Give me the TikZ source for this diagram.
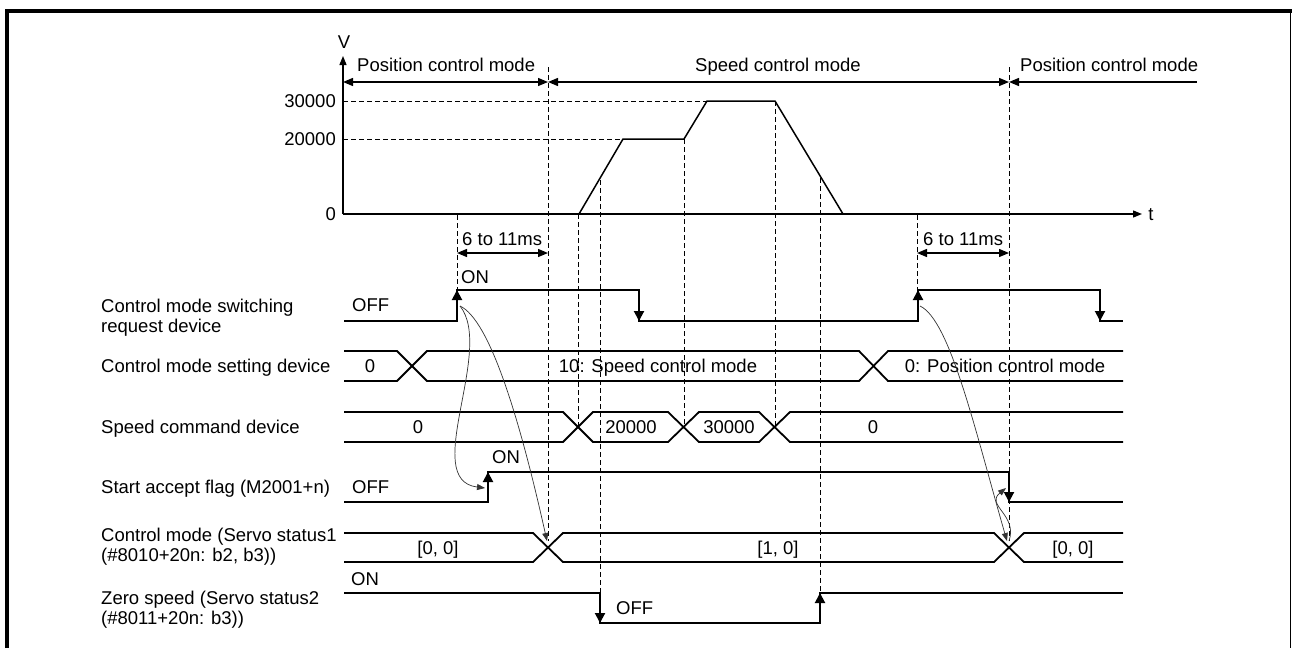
\documentclass[tikz,border=0pt]{standalone}
\usepackage{fontspec}
\setmainfont{Liberation Sans}
\usetikzlibrary{arrows.meta}
\newfontfamily\lbfont{Liberation Sans}
\begin{document}
\begin{tikzpicture}[x=1pt,y=-1pt,
  lbl/.style={font=\fontsize{18.5}{20}\selectfont, inner sep=0pt, anchor=base west},
  ctr/.style={font=\fontsize{18.5}{20}\selectfont, inner sep=0pt, anchor=base},
  rgt/.style={font=\fontsize{18.5}{20}\selectfont, inner sep=0pt, anchor=base east},
  sig/.style={line width=2pt, line join=miter},
  bus/.style={line width=1.8pt, line join=miter},
  dsh/.style={line width=1pt, dash pattern=on 5pt off 3pt},
  axisline/.style={line width=1.3pt},
  edgetip/.style={line width=2pt, -{Triangle[length=10pt,width=10pt]}},
  dimarrow/.style={line width=1.3pt, {Triangle[length=10pt,width=8pt]}-{Triangle[length=10pt,width=8pt]}},
  linkcurve/.style={line width=0.7pt, black!80, -{Triangle[length=8pt,width=6pt]}}
]
\useasboundingbox (0,0) rectangle (1292,648);
% frame
\draw[line width=4pt, line join=miter] (7,648) -- (7,11) -- (1292,11);
\draw[line width=1.5pt] (1290.5,11) -- (1290.5,648);

% axes
\coordinate (O) at (343,214);
\coordinate (Vtop) at (343,56);
\coordinate (Tend) at (1142,214);
\draw[axisline,-{Triangle[length=9pt,width=7pt]}] (O) -- (Vtop);
\draw[axisline,-{Triangle[length=9pt,width=7pt]}] (O) -- (Tend);
\node[ctr] (V) at (344,48.5) {V};
\node[ctr] (t) at (1151,220.5) {t};
\node[rgt] (y30) at (336,107.5) {30000};
\node[rgt] (y20) at (336,145.5) {20000};
\node[rgt] (y0) at (336,220.5) {0};
\draw[dsh] (343,101) -- (707,101);
\draw[dsh] (343,139) -- (623,139);

% speed profile
\draw[line width=1.5pt, line join=miter] (579,214) -- (623,139) -- (684,139) -- (707,101) -- (775,101) -- (843,214);

% mode arrows
\coordinate (m0) at (343,82);
\coordinate (m1) at (548,82);
\coordinate (m2) at (1009,82);
\coordinate (m3) at (1197,82);
\draw[dimarrow] (m0) -- (m1);
\draw[dimarrow] (m1) -- (m2);
\draw[line width=1.3pt, {Triangle[length=10pt,width=8pt]}-] (m2) -- (m3);
\node[lbl] (pcm1) at (357,71.5) {Position control mode};
\node[ctr] (scm) at (778,71.5) {Speed control mode};
\node[lbl] (pcm2) at (1020,71.5) {Position control mode};

% vertical dashed lines
\draw[dsh] (548,67) -- (548,541);
\draw[dsh] (1009,67) -- (1009,541);
\draw[dsh] (457,215) -- (457,290);
\draw[dsh] (917,215) -- (917,290);
\draw[dsh] (578,214) -- (578,427);
\draw[dsh] (600,180) -- (600,593);
\draw[dsh] (684,139) -- (684,427);
\draw[dsh] (775,101) -- (775,427);
\draw[dsh] (820,178) -- (820,593);

% 6 to 11 ms
\draw[dimarrow] (457,253) -- (548,253);
\draw[dimarrow] (917,253) -- (1009,253);
\node[lbl] (d1) at (462,245.5) {6 to 11ms};
\node[lbl] (d2) at (923,245.5) {6 to 11ms};

% left labels
\node[lbl] (l1a) at (101,312) {Control mode switching};
\node[lbl] (l1b) at (101,332) {request device};
\node[lbl] (l2) at (101,372.5) {Control mode setting device};
\node[lbl] (l3) at (101,433.5) {Speed command device};
\node[lbl] (l4) at (101,493.5) {Start accept flag (M2001+n)};
\node[lbl] (l5a) at (101,541.5) {Control mode (Servo status1};
\node[lbl] (l5b) at (101,561) {(\#8010+20n: b2, b3))};
\node[lbl] (l6a) at (101,604.5) {Zero speed (Servo status2};
\node[lbl] (l6b) at (101,624) {(\#8011+20n: b3))};

% control mode switching request
\draw[sig] (344,321) -- (457,321) -- (457,290) -- (639,290) -- (639,321) -- (918,321) -- (918,290) -- (1100,290) -- (1100,321) -- (1123,321);
\draw[edgetip] (457,306) -- (457,290);
\draw[edgetip] (639,305) -- (639,321);
\draw[edgetip] (918,306) -- (918,290);
\draw[edgetip] (1100,305) -- (1100,321);
\node[lbl] (on1) at (461,283.5) {ON};
\node[lbl] (off1) at (352,311.5) {OFF};

% control mode setting device
\draw[bus] (344,351) -- (397,351) -- (427,381) -- (859,381) -- (888,351) -- (1123,351);
\draw[bus] (344,381) -- (397,381) -- (427,351) -- (859,351) -- (888,381) -- (1123,381);
\node[ctr] (c0) at (370,372.5) {0};
\node[ctr] (c10) at (658,372.5) {10: Speed control mode};
\node[ctr] (c00) at (1005,372.5) {0: Position control mode};

% speed command device
\draw[bus] (344,412) -- (563,412) -- (593,442) -- (668,442) -- (699,412) -- (759,412) -- (790,442) -- (1123,442);
\draw[bus] (344,442) -- (563,442) -- (593,412) -- (668,412) -- (699,442) -- (759,442) -- (790,412) -- (1123,412);
\node[ctr] (s0) at (418,433.5) {0};
\node[ctr] (s2) at (631,433.5) {20000};
\node[ctr] (s3) at (729,433.5) {30000};
\node[ctr] (s0b) at (873,433.5) {0};

% start accept flag
\draw[sig] (344,502) -- (488,502) -- (488,472) -- (1009,472) -- (1009,502) -- (1123,502);
\draw[edgetip] (488,487) -- (488,472);
\draw[edgetip] (1009,487) -- (1009,502);
\node[lbl] (on2) at (492,463.5) {ON};
\node[lbl] (off2) at (352,493.5) {OFF};

% control mode servo status1
\draw[bus] (344,533) -- (533,533) -- (563,562) -- (994,562) -- (1024,533) -- (1123,533);
\draw[bus] (344,562) -- (533,562) -- (563,533) -- (994,533) -- (1024,562) -- (1123,562);
\node[ctr] (k1) at (438,554.5) {[0, 0]};
\node[ctr] (k2) at (778,554.5) {[1, 0]};
\node[ctr] (k3) at (1073,554.5) {[0, 0]};

% zero speed
\draw[sig] (344,593) -- (600,593) -- (600,623) -- (820,623) -- (820,593) -- (1123,593);
\draw[edgetip] (600,608) -- (600,623);
\draw[edgetip] (820,608) -- (820,593);
\node[lbl] (on3) at (351,585) {ON};
\node[lbl] (off3) at (616,614.5) {OFF};

% linking curves
\coordinate (reqL) at (460,306);
\coordinate (accL) at (485,488);
\coordinate (xL) at (547,541);
\coordinate (reqR) at (920,306);
\coordinate (accR) at (1006,488);
\coordinate (xR) at (1007,541);
\coordinate (xR2) at (1009,541);
\draw[linkcurve] (reqL) .. controls (495,350) and (420,480) .. (accL);
\draw[linkcurve] (reqL) .. controls (490,320) and (520,420) .. (xL);
\draw[linkcurve] (reqR) .. controls (950,320) and (975,430) .. (xR);
\draw[linkcurve] (xR2) .. controls (1018,515) and (985,505) .. (accR);
\end{tikzpicture}
\end{document}
